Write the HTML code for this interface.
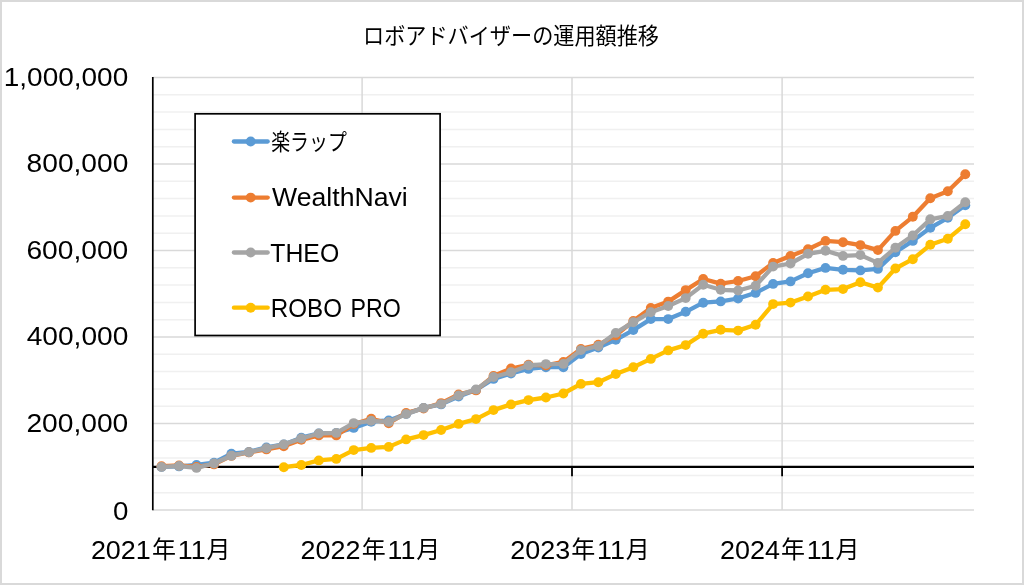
<!DOCTYPE html>
<html lang="ja">
<head>
<meta charset="utf-8">
<title>ロボアドバイザーの運用額推移</title>
<style>
html,body{margin:0;padding:0;background:#fff}
body{width:1024px;height:585px;overflow:hidden;font-family:"Liberation Sans",sans-serif}
#chart{position:relative;width:1020px;height:581px;border:2px solid #d9d9d9;background:#fff}
svg{position:absolute;left:-2px;top:-2px;display:block;will-change:transform}
text{font-family:"Liberation Sans",sans-serif;fill:#000}
text.jp{font-family:"Liberation Sans","Noto Sans CJK JP",sans-serif;fill:#000}
.txt{opacity:.999}
.ax{font-size:25.5px}
.lg{font-size:25.5px}
.sr{fill:none;stroke-width:4.3;stroke-linejoin:round;stroke-linecap:round}
</style>
</head>
<body>
<div id="chart">
<svg width="1024" height="585" viewBox="0 0 1024 585">

<g id="minor-grid" stroke="#f0f0f0" stroke-width="1.5">
<line x1="152.8" y1="492.7" x2="974" y2="492.7"/>
<line x1="152.8" y1="475.4" x2="974" y2="475.4"/>
<line x1="152.8" y1="458.1" x2="974" y2="458.1"/>
<line x1="152.8" y1="440.8" x2="974" y2="440.8"/>
<line x1="152.8" y1="406.2" x2="974" y2="406.2"/>
<line x1="152.8" y1="388.9" x2="974" y2="388.9"/>
<line x1="152.8" y1="371.6" x2="974" y2="371.6"/>
<line x1="152.8" y1="354.3" x2="974" y2="354.3"/>
<line x1="152.8" y1="319.7" x2="974" y2="319.7"/>
<line x1="152.8" y1="302.4" x2="974" y2="302.4"/>
<line x1="152.8" y1="285.1" x2="974" y2="285.1"/>
<line x1="152.8" y1="267.8" x2="974" y2="267.8"/>
<line x1="152.8" y1="233.2" x2="974" y2="233.2"/>
<line x1="152.8" y1="215.9" x2="974" y2="215.9"/>
<line x1="152.8" y1="198.6" x2="974" y2="198.6"/>
<line x1="152.8" y1="181.3" x2="974" y2="181.3"/>
<line x1="152.8" y1="146.7" x2="974" y2="146.7"/>
<line x1="152.8" y1="129.4" x2="974" y2="129.4"/>
<line x1="152.8" y1="112.1" x2="974" y2="112.1"/>
<line x1="152.8" y1="94.8" x2="974" y2="94.8"/>
</g>
<g id="major-grid" stroke="#d9d9d9" stroke-width="1.5">
<line x1="152.8" y1="510" x2="974" y2="510"/>
<line x1="152.8" y1="423.5" x2="974" y2="423.5"/>
<line x1="152.8" y1="337" x2="974" y2="337"/>
<line x1="152.8" y1="250.5" x2="974" y2="250.5"/>
<line x1="152.8" y1="164" x2="974" y2="164"/>
<line x1="152.8" y1="77.5" x2="974" y2="77.5"/>
<line x1="362.1" y1="77.5" x2="362.1" y2="510"/>
<line x1="572" y1="77.5" x2="572" y2="510"/>
<line x1="782.1" y1="77.5" x2="782.1" y2="510"/>
</g>
<g id="axes" stroke="#000" stroke-width="1.7" fill="none">
<line x1="152.8" y1="77" x2="152.8" y2="510.2"/>
<line x1="152.8" y1="466.9" x2="974" y2="466.9" stroke-width="2.1"/>
<line x1="362.1" y1="466.9" x2="362.1" y2="476.2" stroke-width="1.8"/>
<line x1="572" y1="466.9" x2="572" y2="476.2" stroke-width="1.8"/>
<line x1="782.1" y1="466.9" x2="782.1" y2="476.2" stroke-width="1.8"/>
</g>
<g id="s1" stroke="#5b9bd5" fill="#5b9bd5">
<polyline class="sr" points="161.5,466.9 179,466.4 196.5,464.9 214,462.7 231.4,453.7 248.9,451.9 266.4,447.4 283.8,444.4 301.3,437.7 318.8,433.4 336.3,432.9 353.7,427.9 371.2,421.7 388.7,420.4 406.1,413.9 423.6,407.9 441.1,404.4 458.6,396.6 476,389.9 493.5,378.9 511,373.5 528.5,368.9 545.9,367.2 563.4,367.2 580.9,354.1 598.3,347.6 615.8,339.8 633.3,330.1 650.8,319.1 668.2,319.1 685.7,311.8 703.2,302.7 720.7,301.4 738.1,298.5 755.6,292.9 773.1,283.9 790.5,281.4 808,273.2 825.5,267.9 843,269.8 860.4,270.4 877.9,268.9 895.4,252.2 912.8,240.9 930.3,227.8 947.8,217.8 965.3,205.3"/>
<g stroke="none"><circle cx="161.5" cy="466.9" r="4.95"/><circle cx="179" cy="466.4" r="4.95"/><circle cx="196.5" cy="464.9" r="4.95"/><circle cx="214" cy="462.7" r="4.95"/><circle cx="231.4" cy="453.7" r="4.95"/><circle cx="248.9" cy="451.9" r="4.95"/><circle cx="266.4" cy="447.4" r="4.95"/><circle cx="283.8" cy="444.4" r="4.95"/><circle cx="301.3" cy="437.7" r="4.95"/><circle cx="318.8" cy="433.4" r="4.95"/><circle cx="336.3" cy="432.9" r="4.95"/><circle cx="353.7" cy="427.9" r="4.95"/><circle cx="371.2" cy="421.7" r="4.95"/><circle cx="388.7" cy="420.4" r="4.95"/><circle cx="406.1" cy="413.9" r="4.95"/><circle cx="423.6" cy="407.9" r="4.95"/><circle cx="441.1" cy="404.4" r="4.95"/><circle cx="458.6" cy="396.6" r="4.95"/><circle cx="476" cy="389.9" r="4.95"/><circle cx="493.5" cy="378.9" r="4.95"/><circle cx="511" cy="373.5" r="4.95"/><circle cx="528.5" cy="368.9" r="4.95"/><circle cx="545.9" cy="367.2" r="4.95"/><circle cx="563.4" cy="367.2" r="4.95"/><circle cx="580.9" cy="354.1" r="4.95"/><circle cx="598.3" cy="347.6" r="4.95"/><circle cx="615.8" cy="339.8" r="4.95"/><circle cx="633.3" cy="330.1" r="4.95"/><circle cx="650.8" cy="319.1" r="4.95"/><circle cx="668.2" cy="319.1" r="4.95"/><circle cx="685.7" cy="311.8" r="4.95"/><circle cx="703.2" cy="302.7" r="4.95"/><circle cx="720.7" cy="301.4" r="4.95"/><circle cx="738.1" cy="298.5" r="4.95"/><circle cx="755.6" cy="292.9" r="4.95"/><circle cx="773.1" cy="283.9" r="4.95"/><circle cx="790.5" cy="281.4" r="4.95"/><circle cx="808" cy="273.2" r="4.95"/><circle cx="825.5" cy="267.9" r="4.95"/><circle cx="843" cy="269.8" r="4.95"/><circle cx="860.4" cy="270.4" r="4.95"/><circle cx="877.9" cy="268.9" r="4.95"/><circle cx="895.4" cy="252.2" r="4.95"/><circle cx="912.8" cy="240.9" r="4.95"/><circle cx="930.3" cy="227.8" r="4.95"/><circle cx="947.8" cy="217.8" r="4.95"/><circle cx="965.3" cy="205.3" r="4.95"/></g>
</g>
<g id="s2" stroke="#ed7d31" fill="#ed7d31">
<polyline class="sr" points="161.5,466.2 179,465.4 196.5,466.9 214,464.4 231.4,455.9 248.9,452.4 266.4,449.4 283.8,446.2 301.3,439.8 318.8,435.4 336.3,435.4 353.7,424.1 371.2,418.8 388.7,423.2 406.1,412.9 423.6,408.5 441.1,403.1 458.6,394.4 476,390.4 493.5,376 511,368.5 528.5,364.8 545.9,365.4 563.4,361.9 580.9,348.9 598.3,344.8 615.8,335.4 633.3,321 650.8,307.9 668.2,301.6 685.7,290.1 703.2,279 720.7,283.7 738.1,281 755.6,276.2 773.1,262.9 790.5,255.9 808,249.3 825.5,240.9 843,242.2 860.4,245.1 877.9,250.1 895.4,230.9 912.8,216.8 930.3,198.2 947.8,191.3 965.3,174.3"/>
<g stroke="none"><circle cx="161.5" cy="466.2" r="4.95"/><circle cx="179" cy="465.4" r="4.95"/><circle cx="196.5" cy="466.9" r="4.95"/><circle cx="214" cy="464.4" r="4.95"/><circle cx="231.4" cy="455.9" r="4.95"/><circle cx="248.9" cy="452.4" r="4.95"/><circle cx="266.4" cy="449.4" r="4.95"/><circle cx="283.8" cy="446.2" r="4.95"/><circle cx="301.3" cy="439.8" r="4.95"/><circle cx="318.8" cy="435.4" r="4.95"/><circle cx="336.3" cy="435.4" r="4.95"/><circle cx="353.7" cy="424.1" r="4.95"/><circle cx="371.2" cy="418.8" r="4.95"/><circle cx="388.7" cy="423.2" r="4.95"/><circle cx="406.1" cy="412.9" r="4.95"/><circle cx="423.6" cy="408.5" r="4.95"/><circle cx="441.1" cy="403.1" r="4.95"/><circle cx="458.6" cy="394.4" r="4.95"/><circle cx="476" cy="390.4" r="4.95"/><circle cx="493.5" cy="376" r="4.95"/><circle cx="511" cy="368.5" r="4.95"/><circle cx="528.5" cy="364.8" r="4.95"/><circle cx="545.9" cy="365.4" r="4.95"/><circle cx="563.4" cy="361.9" r="4.95"/><circle cx="580.9" cy="348.9" r="4.95"/><circle cx="598.3" cy="344.8" r="4.95"/><circle cx="615.8" cy="335.4" r="4.95"/><circle cx="633.3" cy="321" r="4.95"/><circle cx="650.8" cy="307.9" r="4.95"/><circle cx="668.2" cy="301.6" r="4.95"/><circle cx="685.7" cy="290.1" r="4.95"/><circle cx="703.2" cy="279" r="4.95"/><circle cx="720.7" cy="283.7" r="4.95"/><circle cx="738.1" cy="281" r="4.95"/><circle cx="755.6" cy="276.2" r="4.95"/><circle cx="773.1" cy="262.9" r="4.95"/><circle cx="790.5" cy="255.9" r="4.95"/><circle cx="808" cy="249.3" r="4.95"/><circle cx="825.5" cy="240.9" r="4.95"/><circle cx="843" cy="242.2" r="4.95"/><circle cx="860.4" cy="245.1" r="4.95"/><circle cx="877.9" cy="250.1" r="4.95"/><circle cx="895.4" cy="230.9" r="4.95"/><circle cx="912.8" cy="216.8" r="4.95"/><circle cx="930.3" cy="198.2" r="4.95"/><circle cx="947.8" cy="191.3" r="4.95"/><circle cx="965.3" cy="174.3" r="4.95"/></g>
</g>
<g id="s3" stroke="#a5a5a5" fill="#a5a5a5">
<polyline class="sr" points="161.5,466.9 179,466 196.5,467.9 214,463.5 231.4,455.7 248.9,452.2 266.4,448.2 283.8,444.4 301.3,438.5 318.8,433.5 336.3,432.9 353.7,423.1 371.2,420.8 388.7,421.9 406.1,414.1 423.6,407.9 441.1,404.1 458.6,395.4 476,389.4 493.5,377 511,372.2 528.5,365.4 545.9,364.1 563.4,363.9 580.9,350.1 598.3,346 615.8,332.9 633.3,322.2 650.8,312.2 668.2,306 685.7,298.1 703.2,284.8 720.7,289.8 738.1,290.5 755.6,285.7 773.1,266.6 790.5,263.5 808,253.8 825.5,250.8 843,255.9 860.4,255.1 877.9,262.9 895.4,247.8 912.8,235.5 930.3,219.3 947.8,215.9 965.3,202.2"/>
<g stroke="none"><circle cx="161.5" cy="466.9" r="4.95"/><circle cx="179" cy="466" r="4.95"/><circle cx="196.5" cy="467.9" r="4.95"/><circle cx="214" cy="463.5" r="4.95"/><circle cx="231.4" cy="455.7" r="4.95"/><circle cx="248.9" cy="452.2" r="4.95"/><circle cx="266.4" cy="448.2" r="4.95"/><circle cx="283.8" cy="444.4" r="4.95"/><circle cx="301.3" cy="438.5" r="4.95"/><circle cx="318.8" cy="433.5" r="4.95"/><circle cx="336.3" cy="432.9" r="4.95"/><circle cx="353.7" cy="423.1" r="4.95"/><circle cx="371.2" cy="420.8" r="4.95"/><circle cx="388.7" cy="421.9" r="4.95"/><circle cx="406.1" cy="414.1" r="4.95"/><circle cx="423.6" cy="407.9" r="4.95"/><circle cx="441.1" cy="404.1" r="4.95"/><circle cx="458.6" cy="395.4" r="4.95"/><circle cx="476" cy="389.4" r="4.95"/><circle cx="493.5" cy="377" r="4.95"/><circle cx="511" cy="372.2" r="4.95"/><circle cx="528.5" cy="365.4" r="4.95"/><circle cx="545.9" cy="364.1" r="4.95"/><circle cx="563.4" cy="363.9" r="4.95"/><circle cx="580.9" cy="350.1" r="4.95"/><circle cx="598.3" cy="346" r="4.95"/><circle cx="615.8" cy="332.9" r="4.95"/><circle cx="633.3" cy="322.2" r="4.95"/><circle cx="650.8" cy="312.2" r="4.95"/><circle cx="668.2" cy="306" r="4.95"/><circle cx="685.7" cy="298.1" r="4.95"/><circle cx="703.2" cy="284.8" r="4.95"/><circle cx="720.7" cy="289.8" r="4.95"/><circle cx="738.1" cy="290.5" r="4.95"/><circle cx="755.6" cy="285.7" r="4.95"/><circle cx="773.1" cy="266.6" r="4.95"/><circle cx="790.5" cy="263.5" r="4.95"/><circle cx="808" cy="253.8" r="4.95"/><circle cx="825.5" cy="250.8" r="4.95"/><circle cx="843" cy="255.9" r="4.95"/><circle cx="860.4" cy="255.1" r="4.95"/><circle cx="877.9" cy="262.9" r="4.95"/><circle cx="895.4" cy="247.8" r="4.95"/><circle cx="912.8" cy="235.5" r="4.95"/><circle cx="930.3" cy="219.3" r="4.95"/><circle cx="947.8" cy="215.9" r="4.95"/><circle cx="965.3" cy="202.2" r="4.95"/></g>
</g>
<g id="s4" stroke="#ffc000" fill="#ffc000">
<polyline class="sr" points="283.8,467.2 301.3,465 318.8,460.4 336.3,458.9 353.7,450.1 371.2,447.9 388.7,446.9 406.1,439.4 423.6,435.1 441.1,430 458.6,423.9 476,419.1 493.5,410.1 511,404.4 528.5,400.1 545.9,397.5 563.4,393.5 580.9,383.9 598.3,382.2 615.8,374.1 633.3,367.2 650.8,358.9 668.2,350.4 685.7,345.1 703.2,333.7 720.7,329.8 738.1,330.6 755.6,324.8 773.1,304.1 790.5,302.6 808,296.5 825.5,289.8 843,289.1 860.4,282.2 877.9,287.6 895.4,268.5 912.8,259.2 930.3,244.8 947.8,238.8 965.3,224.3"/>
<g stroke="none"><circle cx="283.8" cy="467.2" r="4.95"/><circle cx="301.3" cy="465" r="4.95"/><circle cx="318.8" cy="460.4" r="4.95"/><circle cx="336.3" cy="458.9" r="4.95"/><circle cx="353.7" cy="450.1" r="4.95"/><circle cx="371.2" cy="447.9" r="4.95"/><circle cx="388.7" cy="446.9" r="4.95"/><circle cx="406.1" cy="439.4" r="4.95"/><circle cx="423.6" cy="435.1" r="4.95"/><circle cx="441.1" cy="430" r="4.95"/><circle cx="458.6" cy="423.9" r="4.95"/><circle cx="476" cy="419.1" r="4.95"/><circle cx="493.5" cy="410.1" r="4.95"/><circle cx="511" cy="404.4" r="4.95"/><circle cx="528.5" cy="400.1" r="4.95"/><circle cx="545.9" cy="397.5" r="4.95"/><circle cx="563.4" cy="393.5" r="4.95"/><circle cx="580.9" cy="383.9" r="4.95"/><circle cx="598.3" cy="382.2" r="4.95"/><circle cx="615.8" cy="374.1" r="4.95"/><circle cx="633.3" cy="367.2" r="4.95"/><circle cx="650.8" cy="358.9" r="4.95"/><circle cx="668.2" cy="350.4" r="4.95"/><circle cx="685.7" cy="345.1" r="4.95"/><circle cx="703.2" cy="333.7" r="4.95"/><circle cx="720.7" cy="329.8" r="4.95"/><circle cx="738.1" cy="330.6" r="4.95"/><circle cx="755.6" cy="324.8" r="4.95"/><circle cx="773.1" cy="304.1" r="4.95"/><circle cx="790.5" cy="302.6" r="4.95"/><circle cx="808" cy="296.5" r="4.95"/><circle cx="825.5" cy="289.8" r="4.95"/><circle cx="843" cy="289.1" r="4.95"/><circle cx="860.4" cy="282.2" r="4.95"/><circle cx="877.9" cy="287.6" r="4.95"/><circle cx="895.4" cy="268.5" r="4.95"/><circle cx="912.8" cy="259.2" r="4.95"/><circle cx="930.3" cy="244.8" r="4.95"/><circle cx="947.8" cy="238.8" r="4.95"/><circle cx="965.3" cy="224.3" r="4.95"/></g>
</g>
<g id="legend" class="txt">
<rect x="195.1" y="113.8" width="245" height="221.7" fill="#fff" stroke="#000" stroke-width="1.7"/>
<line x1="233.9" y1="141.5" x2="267.7" y2="141.5" stroke="#5b9bd5" stroke-width="4.3" stroke-linecap="round"/><circle cx="250.7" cy="141.5" r="4.95" fill="#5b9bd5"/>
<line x1="233.9" y1="197.6" x2="267.7" y2="197.6" stroke="#ed7d31" stroke-width="4.3" stroke-linecap="round"/><circle cx="250.7" cy="197.6" r="4.95" fill="#ed7d31"/>
<line x1="233.9" y1="252.5" x2="267.7" y2="252.5" stroke="#a5a5a5" stroke-width="4.3" stroke-linecap="round"/><circle cx="250.7" cy="252.5" r="4.95" fill="#a5a5a5"/>
<line x1="233.9" y1="307.7" x2="267.7" y2="307.7" stroke="#ffc000" stroke-width="4.3" stroke-linecap="round"/><circle cx="250.7" cy="307.7" r="4.95" fill="#ffc000"/>
<text class="lg" x="272.1" y="206" textLength="135.6" lengthAdjust="spacingAndGlyphs">WealthNavi</text>
<text class="lg" x="270.3" y="262" textLength="68.9" lengthAdjust="spacingAndGlyphs">THEO</text>
<text class="lg" y="317" xml:space="preserve"><tspan x="270.8" textLength="71.2" lengthAdjust="spacingAndGlyphs">ROBO</tspan><tspan> </tspan><tspan x="350.6" textLength="50.3" lengthAdjust="spacingAndGlyphs">PRO</tspan></text>
<text class="jp" id="lg1" x="271.2" y="150" font-size="23" textLength="75.6" lengthAdjust="spacingAndGlyphs">楽ラップ</text>
</g>
<text class="jp" id="title" x="363" y="43.6" font-size="22.5" textLength="296" lengthAdjust="spacingAndGlyphs">ロボアドバイザーの運用額推移</text>
<g id="yaxis-labels" class="txt">
<text class="ax" x="3.8" y="86" textLength="124.4" lengthAdjust="spacingAndGlyphs">1,000,000</text>
<text class="ax" x="26.6" y="172" textLength="101.7" lengthAdjust="spacingAndGlyphs">800,000</text>
<text class="ax" x="26.4" y="259" textLength="101.9" lengthAdjust="spacingAndGlyphs">600,000</text>
<text class="ax" x="26.7" y="345" textLength="101.6" lengthAdjust="spacingAndGlyphs">400,000</text>
<text class="ax" x="26.4" y="432" textLength="101.9" lengthAdjust="spacingAndGlyphs">200,000</text>
<text class="ax" x="112.9" y="520" textLength="15.4" lengthAdjust="spacingAndGlyphs">0</text>
</g>
<g id="xaxis-labels" class="txt">
<text class="ax" x="90.9" y="558.6" textLength="59.9" lengthAdjust="spacingAndGlyphs">2021</text>
<text class="jp" x="152" y="558.2" font-size="24">年</text>
<text class="ax" x="177.8" y="558.6" textLength="27.9" lengthAdjust="spacingAndGlyphs">11</text>
<text class="jp" x="206.5" y="558.2" font-size="24">月</text>
<text class="ax" x="300.6" y="558.6" textLength="59.9" lengthAdjust="spacingAndGlyphs">2022</text>
<text class="jp" x="361.7" y="558.2" font-size="24">年</text>
<text class="ax" x="387.5" y="558.6" textLength="27.9" lengthAdjust="spacingAndGlyphs">11</text>
<text class="jp" x="416.2" y="558.2" font-size="24">月</text>
<text class="ax" x="510.3" y="558.6" textLength="59.9" lengthAdjust="spacingAndGlyphs">2023</text>
<text class="jp" x="571.3" y="558.2" font-size="24">年</text>
<text class="ax" x="597.1" y="558.6" textLength="27.9" lengthAdjust="spacingAndGlyphs">11</text>
<text class="jp" x="625.8" y="558.2" font-size="24">月</text>
<text class="ax" x="720" y="558.6" textLength="59.9" lengthAdjust="spacingAndGlyphs">2024</text>
<text class="jp" x="781" y="558.2" font-size="24">年</text>
<text class="ax" x="806.8" y="558.6" textLength="27.9" lengthAdjust="spacingAndGlyphs">11</text>
<text class="jp" x="835.5" y="558.2" font-size="24">月</text>
</g>
</svg>
</div>
</body>
</html>
